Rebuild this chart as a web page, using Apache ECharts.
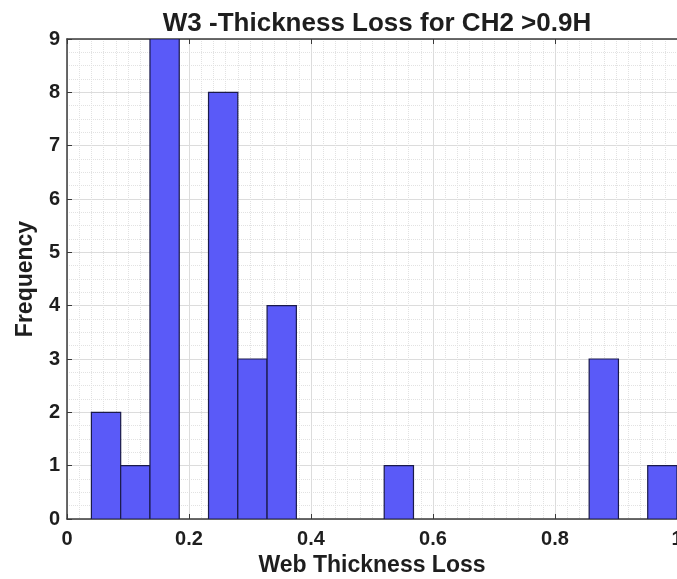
<!DOCTYPE html>
<html>
<head>
<meta charset="utf-8">
<script src="https://cdn.jsdelivr.net/npm/echarts@6/dist/echarts.min.js"></script>
<style>
  html, body { margin: 0; padding: 0; background: #fff; }
  #chart { width: 677px; height: 579px; }
</style>
</head>
<body>
<div id="chart"></div>
<script>
  // histogram bin edges and counts
  const binEdges = [0.04, 0.088, 0.136, 0.184, 0.232, 0.28, 0.328, 0.376, 0.424, 0.472,
    0.52, 0.568, 0.616, 0.664, 0.712, 0.76, 0.808, 0.856, 0.904, 0.952, 1.0];
  const counts = [2, 1, 9, 0, 8, 3, 4, 0, 0, 0, 1, 0, 0, 0, 0, 0, 0, 3, 0, 1];
  const xTicks = [0, 0.2, 0.4, 0.6, 0.8, 1];
  const yTicks = [0, 1, 2, 3, 4, 5, 6, 7, 8, 9];

  (function () {
    var myChart = echarts.init(document.getElementById("chart"));

    const data = [];
    for (let i = 0; i < counts.length; i++) {
      if (counts[i] > 0) {
        data.push([binEdges[i], binEdges[i + 1], counts[i]]);
      }
    }

    const font = "'Liberation Sans', Arial, sans-serif";
    const axisColor = "#3a3a3a";

    option = {
      backgroundColor: "#fff",
      animation: false,
      title: {
        text: "W3 -Thickness Loss for CH2 >0.9H",
        left: 372,
        top: 6,
        textAlign: "center",
        textStyle: {
          fontFamily: font,
          fontSize: 26,
          fontWeight: "bold",
          color: "#1e1e1e",
        },
      },
      grid: {
        left: 67,
        right: 0,
        top: 39,
        bottom: 60,
        outerBoundsMode: "none",
      },
      xAxis: [
        {
          type: "value",
          min: xTicks[0],
          max: xTicks[xTicks.length - 1],
          interval: 0.2,
          name: "Web Thickness Loss",
          nameLocation: "middle",
          nameGap: 24,
          nameTextStyle: {
            fontFamily: font,
            fontSize: 23,
            fontWeight: "bold",
            color: "#1e1e1e",
          },
          axisLine: { show: true, lineStyle: { color: axisColor, width: 1.5 } },
          axisTick: { show: true, inside: true, length: 5, lineStyle: { color: axisColor } },
          axisLabel: {
            fontFamily: font,
            fontSize: 20,
            fontWeight: "bold",
            color: "#1e1e1e",
            margin: 10,
          },
          splitLine: { show: true, lineStyle: { color: "#dcdcdc", width: 1 } },
          minorTick: { show: false, splitNumber: 10 },
          minorSplitLine: {
            show: true,
            lineStyle: { color: "#e2e2e2", type: "dotted", width: 1 },
          },
        },
        {
          type: "value",
          position: "top",
          min: xTicks[0],
          max: xTicks[xTicks.length - 1],
          interval: 0.2,
          axisLine: { show: true, lineStyle: { color: axisColor, width: 1.5 } },
          axisTick: { show: true, inside: true, length: 5, lineStyle: { color: axisColor } },
          axisLabel: { show: false },
          splitLine: { show: false },
        },
      ],
      yAxis: {
        type: "value",
        min: yTicks[0],
        max: yTicks[yTicks.length - 1],
        interval: 1,
        name: "Frequency",
        nameLocation: "middle",
        nameGap: 30,
        nameRotate: 90,
        nameTextStyle: {
          fontFamily: font,
          fontSize: 23,
          fontWeight: "bold",
          color: "#1e1e1e",
        },
        axisLine: { show: true, lineStyle: { color: axisColor, width: 1.5 } },
        axisTick: { show: true, inside: true, length: 5, lineStyle: { color: axisColor } },
        axisLabel: {
          fontFamily: font,
          fontSize: 20,
          fontWeight: "bold",
          color: "#1e1e1e",
          margin: 7,
        },
        splitLine: { show: true, lineStyle: { color: "#dcdcdc", width: 1 } },
        minorTick: { show: false, splitNumber: 4 },
        minorSplitLine: {
          show: true,
          lineStyle: { color: "#e2e2e2", type: "dotted", width: 1 },
        },
      },
      series: [
        {
          type: "custom",
          xAxisIndex: 0,
          clip: true,
          renderItem: function (params, api) {
            const p0 = api.coord([api.value(0), api.value(2)]);
            const p1 = api.coord([api.value(1), 0]);
            return {
              type: "rect",
              shape: {
                x: p0[0],
                y: p0[1],
                width: p1[0] - p0[0],
                height: p1[1] - p0[1],
              },
              style: {
                fill: "#5a5af8",
                stroke: "#1a1a4a",
                lineWidth: 1.2,
              },
            };
          },
          encode: { x: [0, 1], y: 2 },
          data: data,
        },
      ],
    };

    myChart.setOption(option, true);

    window.onresize = function () {
      myChart.resize();
    };
  })();
</script>
</body>
</html>
